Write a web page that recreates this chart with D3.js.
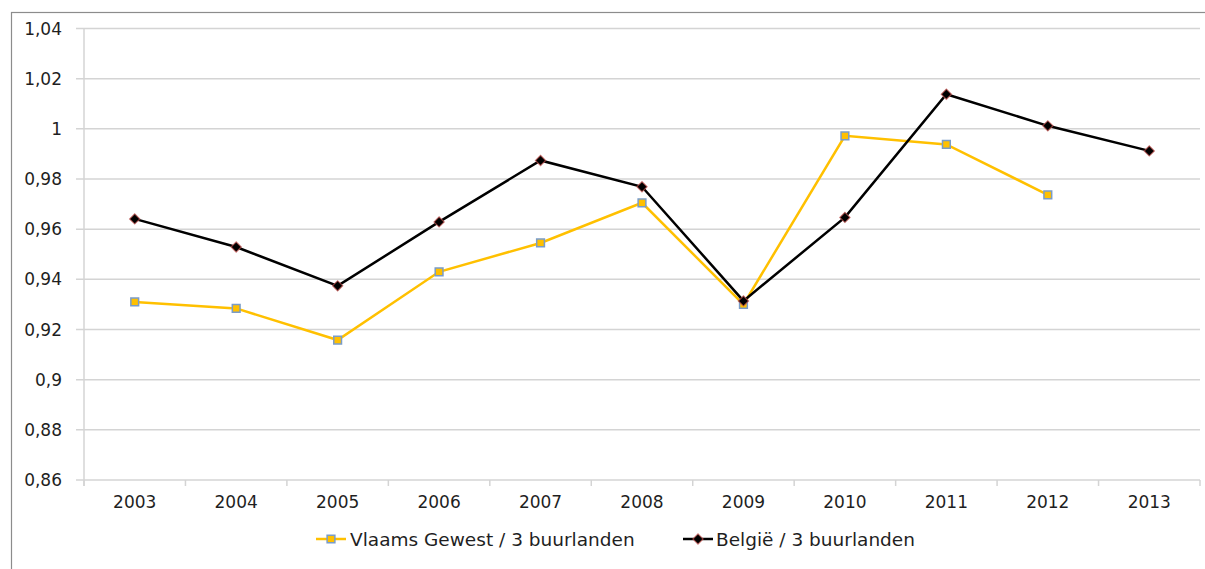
<!DOCTYPE html>
<html>
<head>
<meta charset="utf-8">
<script src="https://cdn.jsdelivr.net/npm/d3@7"></script>
<style>
  body { margin: 0; background: #fff; }
  text { font-family: "DejaVu Sans", sans-serif; fill: #1f1f1f; }
</style>
</head>
<body>
<svg width="1205" height="569"></svg>
<script>
const years = ["2003", "2004", "2005", "2006", "2007", "2008", "2009", "2010", "2011", "2012", "2013"]
const vlaams = [0.931, 0.9284, 0.9158, 0.943, 0.9545, 0.9705, 0.930, 0.9972, 0.9938, 0.9737, null]
const belgie = [0.9641, 0.9529, 0.9374, 0.9629, 0.9874, 0.9769, 0.9314, 0.9647, 1.0138, 1.0012, 0.9912]
const yTicks = [0.86, 0.88, 0.9, 0.92, 0.94, 0.96, 0.98, 1, 1.02, 1.04]
const seriesNames = ["Vlaams Gewest / 3 buurlanden", "België / 3 buurlanden"]

const svg = d3.select("svg")
const margin = {top: 28.5, right: 5, bottom: 89, left: 84}
const width = 1205
const height = 569

// outer chart border
svg.append("rect")
  .attr("x", 11.5).attr("y", 12.5)
  .attr("width", 1200).attr("height", 600)
  .attr("fill", "none")
  .attr("stroke", "#8c8c8c")
  .attr("stroke-width", 1.2)

const scaleX = d3.scaleBand()
  .domain(years)
  .range([margin.left, width - margin.right])

const scaleY = d3.scaleLinear()
  .domain([0.86, 1.04])
  .range([height - margin.bottom, margin.top])

const fmt = d => (d === 1 ? "1" : d3.format(".2~f")(d).replace(".", ","))

// gridlines
svg.append("g")
  .selectAll("line")
  .data(yTicks)
  .enter()
  .append("line")
  .attr("x1", margin.left - 8)
  .attr("x2", width - margin.right)
  .attr("y1", d => scaleY(d))
  .attr("y2", d => scaleY(d))
  .attr("stroke", "#d4d4d4")
  .attr("stroke-width", 1.5)

// y axis line
svg.append("line")
  .attr("x1", margin.left).attr("x2", margin.left)
  .attr("y1", margin.top).attr("y2", scaleY(0.86) + 6)
  .attr("stroke", "#d4d4d4")
  .attr("stroke-width", 1.5)

// x axis ticks at band edges
const edges = years.map(y => scaleX(y)).concat([width - margin.right])
svg.append("g")
  .selectAll("line")
  .data(edges)
  .enter()
  .append("line")
  .attr("x1", d => d).attr("x2", d => d)
  .attr("y1", scaleY(0.86)).attr("y2", scaleY(0.86) + 6)
  .attr("stroke", "#d4d4d4")
  .attr("stroke-width", 1.5)

// y labels
svg.append("g")
  .selectAll("text")
  .data(yTicks)
  .enter()
  .append("text")
  .attr("x", 62)
  .attr("y", d => scaleY(d))
  .attr("dy", "0.36em")
  .attr("text-anchor", "end")
  .style("font-size", "17px")
  .text(fmt)

// x labels
svg.append("g")
  .selectAll("text")
  .data(years)
  .enter()
  .append("text")
  .attr("x", d => scaleX(d) + scaleX.bandwidth() / 2)
  .attr("y", 508)
  .attr("text-anchor", "middle")
  .style("font-size", "17px")
  .text(d => d)

const cx = i => scaleX(years[i]) + scaleX.bandwidth() / 2

const line = d3.line()
  .defined(d => d != null)
  .x((d, i) => cx(i))
  .y(d => scaleY(d))

svg.append("path")
  .datum(vlaams)
  .attr("d", line)
  .attr("fill", "none")
  .attr("stroke", "#ffc000")
  .attr("stroke-width", 2.5)

svg.append("path")
  .datum(belgie)
  .attr("d", line)
  .attr("fill", "none")
  .attr("stroke", "#000")
  .attr("stroke-width", 2.5)

const square = d3.symbol().type(d3.symbolSquare).size(60)
const diamond = d3.symbol().type(d3.symbolSquare).size(52)

svg.append("g")
  .selectAll("path")
  .data(vlaams.map((v, i) => ({v, i})).filter(d => d.v != null))
  .enter()
  .append("path")
  .attr("d", square)
  .attr("transform", d => `translate(${cx(d.i)},${scaleY(d.v)})`)
  .attr("fill", "#ffc000")
  .attr("stroke", "#7a9cc8")
  .attr("stroke-width", 1.5)

svg.append("g")
  .selectAll("path")
  .data(belgie.map((v, i) => ({v, i})))
  .enter()
  .append("path")
  .attr("d", diamond)
  .attr("transform", d => `translate(${cx(d.i)},${scaleY(d.v)}) rotate(45)`)
  .attr("fill", "#000")
  .attr("stroke", "#c0504d")
  .attr("stroke-opacity", 0.7)
  .attr("stroke-width", 1.2)

// legend
const legendY = 539
const legend1 = svg.append("g").attr("transform", `translate(316,${legendY})`)
legend1.append("line").attr("x1", 0).attr("x2", 30).attr("stroke", "#ffc000").attr("stroke-width", 2.5)
legend1.append("path").attr("d", square).attr("transform", "translate(15,0)")
  .attr("fill", "#ffc000").attr("stroke", "#7a9cc8").attr("stroke-width", 1.5)
legend1.append("text").attr("x", 34).attr("dy", "0.36em").style("font-size", "18.5px").text(seriesNames[0])

const legend2 = svg.append("g").attr("transform", `translate(683,${legendY})`)
legend2.append("line").attr("x1", 0).attr("x2", 30).attr("stroke", "#000").attr("stroke-width", 2.5)
legend2.append("path").attr("d", diamond).attr("transform", "translate(15,0) rotate(45)")
  .attr("fill", "#000").attr("stroke", "#c0504d").attr("stroke-opacity", 0.7).attr("stroke-width", 1.2)
legend2.append("text").attr("x", 33).attr("dy", "0.36em").style("font-size", "18.5px").text(seriesNames[1])
</script>
</body>
</html>
